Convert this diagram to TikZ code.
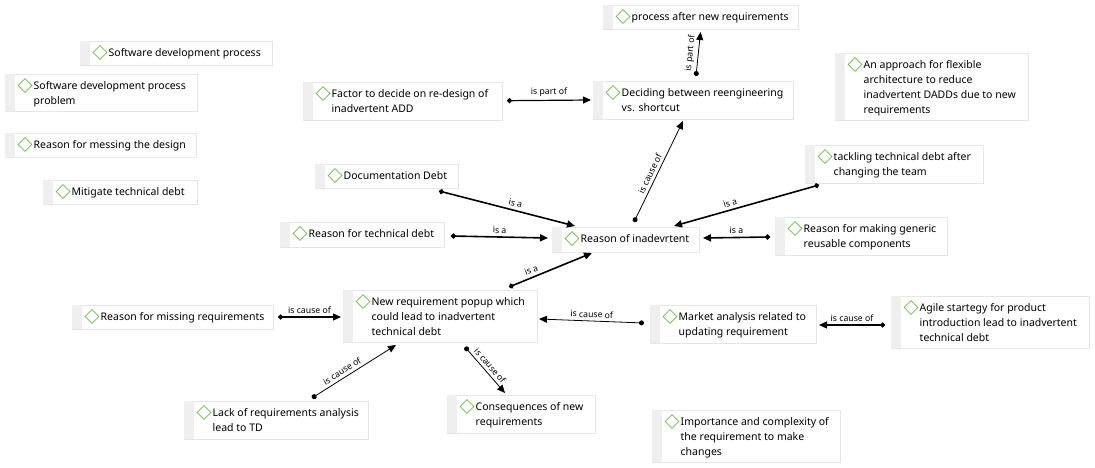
\documentclass[tikz,border=0pt]{standalone}
\usepackage{fontspec}
\usetikzlibrary{shapes.geometric,arrows.meta,calc}
\newfontfamily\uifont{Noto Sans}
\definecolor{boxborder}{HTML}{E6E6E6}
\definecolor{stripgray}{HTML}{EFEFEF}
\definecolor{dgreen}{HTML}{6CC04A}
\tikzset{
  cbox/.style={draw=boxborder, fill=white, line width=0.8pt, inner sep=0pt, outer sep=0pt},
  gdia/.style={diamond, draw=dgreen, line width=0.8pt, minimum width=14pt, minimum height=14pt, inner sep=0pt, aspect=1},
  ctext/.style={anchor=base west, inner sep=0pt, font=\uifont\fontsize{10.5}{15}\selectfont},
  con/.style={{Circle[length=5pt]}-{Triangle[length=8pt,width=7pt]}, black},
  thickcon/.style={con, line width=1.6pt},
  midcon/.style={con, line width=1.2pt},
  thincon/.style={con, line width=0.8pt},
  lbl/.style={font=\uifont\fontsize{8.7}{10}\selectfont, inner sep=3pt, sloped, above, text=black}
}
\newcommand{\concept}[6]{%
  \node[cbox, minimum width=#4pt, minimum height=#5pt, anchor=north west] (#1) at (#2pt,-#3pt) {};
  \fill[stripgray] ([shift={(0.4pt,-0.4pt)}]#1.north west) rectangle ([shift={(10pt,0.4pt)}]#1.south west);
  \node[gdia] at ([shift={(20pt,-11.5pt)}]#1.north west) {};
  \node[ctext] at ([shift={(28.5pt,-15.5pt)}]#1.north west) {\begin{tabular}[t]{@{}l@{}}#6\end{tabular}};
}
\begin{document}
\begin{tikzpicture}
\useasboundingbox[fill=white] (0,0) rectangle (1095pt,-468pt);
\concept{sdp}{80}{41}{192}{24}{Software development process}
\concept{sdpp}{5}{74}{192}{37}{Software development process\\problem}
\concept{rmd}{5}{133}{191}{24}{Reason for messing the design}
\concept{mtd}{43}{180}{154}{24}{Mitigate technical debt}
\concept{fac}{303}{82}{199}{38}{Factor to decide on re-design of\\inadvertent ADD}
\concept{dec}{593}{81}{200}{38}{Deciding between reengineering\\vs. shortcut}
\concept{pan}{603}{5}{195}{24}{process after new requirements}
\concept{afa}{835}{53}{193}{67}{An approach for flexible\\architecture to reduce\\inadvertent DADDs due to new\\requirements}
\concept{doc}{315}{164}{143}{24}{Documentation Debt}
\concept{rtd}{280}{222}{164}{25}{Reason for technical debt}
\concept{roi}{552}{227}{147}{25}{Reason of inadevrtent}
\concept{tck}{805}{145}{178}{38}{tackling technical debt after\\changing the team}
\concept{rmg}{775}{217}{172}{38}{Reason for making generic\\reusable components}
\concept{rmr}{72}{305}{201}{24}{Reason for missing requirements}
\concept{nrp}{343}{290}{194}{52}{New requirement popup which\\could lead to inadvertent\\technical debt}
\concept{lack}{184}{401}{184}{38}{Lack of requirements analysis\\lead to TD}
\concept{cons}{447}{395}{148}{38}{Consequences of new\\requirements}
\concept{mkt}{650}{305}{166}{38}{Market analysis related to\\updating requirement}
\concept{agl}{891}{296}{198}{52}{Agile startegy for product\\introduction lead to inadvertent\\technical debt}
\concept{imp}{652}{410}{188}{52}{Importance and complexity of\\the requirement to make\\changes}

\draw[midcon] ([shift={(5pt,0.3pt)}]fac.east) -- node[lbl]{is part of} ([shift={(-2pt,0pt)}]dec.west);
\draw[thincon] ([shift={(3pt,5pt)}]dec.north) -- node[lbl]{is part of} ([shift={(0pt,-3pt)}]pan.south);
\draw[thincon] ([shift={(8.5pt,5pt)}]roi.north) -- node[lbl, pos=0.45]{is cause of} ([shift={(-10pt,-2pt)}]dec.south);
\draw[thickcon] ([shift={(-19pt,-3pt)}]doc.south east) -- node[lbl, pos=0.55]{is a} ([shift={(23pt,1pt)}]roi.north west);
\draw[thickcon] ([shift={(7pt,-1.5pt)}]rtd.east) -- node[lbl]{is a} ([shift={(-4pt,1.5pt)}]roi.west);
\draw[thickcon] ([shift={(-28pt,3pt)}]nrp.north east) -- node[lbl, pos=0.3]{is a} ([shift={(40pt,-1pt)}]roi.south west);
\draw[thickcon] ([shift={(14pt,-2pt)}]tck.south west) -- node[lbl, pos=0.6]{is a} ([shift={(-25pt,1pt)}]roi.north east);
\draw[thickcon] ([shift={(-5pt,-1pt)}]rmg.west) -- node[lbl]{is a} ([shift={(4pt,1.5pt)}]roi.east);
\draw[midcon] ([xshift=5pt]rmr.east) -- node[lbl]{is cause of} ([shift={(-2pt,-1pt)}]nrp.west);
\draw[thincon] ([shift={(-56pt,3pt)}]lack.north east) -- node[lbl, pos=0.4]{is cause of} ([shift={(53pt,-3pt)}]nrp.south west);
\draw[thincon] ([shift={(25pt,-5pt)}]nrp.south) -- node[lbl]{is cause of} ([shift={(-16pt,2pt)}]cons.north);
\draw[thincon] ([shift={(-6pt,1pt)}]mkt.west) -- node[lbl]{is cause of} ([shift={(2pt,-3pt)}]nrp.east);
\draw[midcon] ([shift={(-6pt,-3pt)}]agl.west) -- node[lbl]{is cause of} ([shift={(3pt,-1pt)}]mkt.east);
\end{tikzpicture}
\end{document}
